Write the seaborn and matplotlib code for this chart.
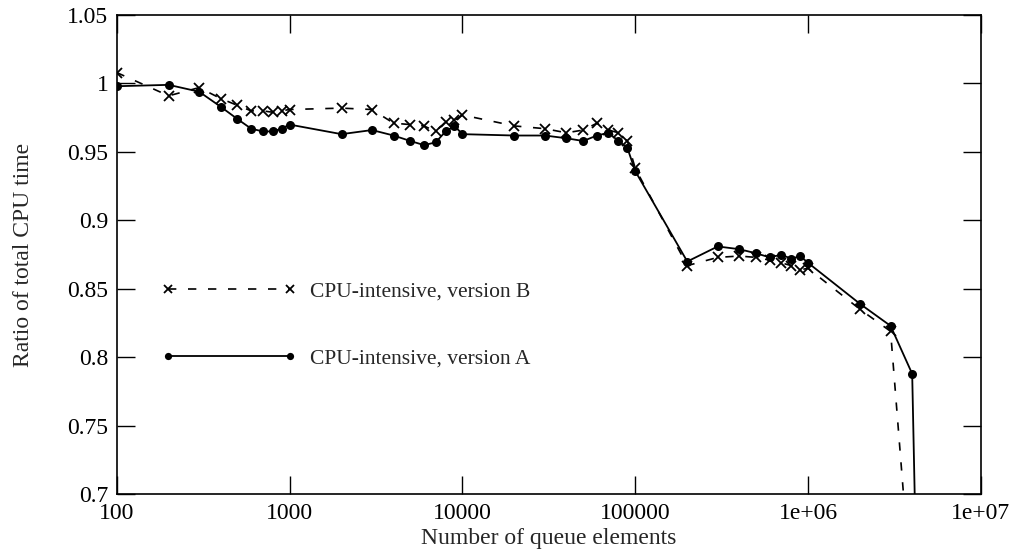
import matplotlib
matplotlib.use("Agg")
import matplotlib.pyplot as plt
import matplotlib.ticker as mticker
import seaborn as sns
import pandas as pd

# ---- data ----
elements = [100, 200, 300, 400, 500, 600, 700, 800, 900, 1000,
            2000, 3000, 4000, 5000, 6000, 7000, 8000, 9000, 10000,
            20000, 30000, 40000, 50000, 60000, 70000, 80000, 90000, 100000,
            200000, 300000, 400000, 500000, 600000, 700000, 800000, 900000, 1000000,
            2000000, 3000000, 4000000]
version_a = [0.998, 0.999, 0.994, 0.983, 0.974, 0.967, 0.965, 0.965, 0.967, 0.970,
             0.963, 0.966, 0.962, 0.958, 0.955, 0.957, 0.965, 0.969, 0.963,
             0.962, 0.962, 0.960, 0.958, 0.962, 0.964, 0.958, 0.953, 0.936,
             0.870, 0.881, 0.879, 0.876, 0.873, 0.875, 0.872, 0.874, 0.869,
             0.839, 0.823, 0.788]
version_a_tail_x = [5000000]
version_a_tail_y = [0.20]
version_b = [1.008, 0.991, 0.997, 0.989, 0.984, 0.980, 0.980, 0.979, 0.980, 0.981,
             0.982, 0.981, 0.971, 0.970, 0.969, 0.965, 0.972, 0.973, 0.977,
             0.969, 0.967, 0.964, 0.966, 0.971, 0.966, 0.964, 0.958, 0.938,
             0.867, 0.873, 0.874, 0.873, 0.871, 0.869, 0.867, 0.864, 0.865,
             0.835, 0.819, 0.620]

label_a = "CPU-intensive, version A"
label_b = "CPU-intensive, version B"
x_ticks = [100, 1000, 10000, 100000, 1000000, 10000000]
x_tick_labels = ["100", "1000", "10000", "100000", "1e+06", "1e+07"]
y_ticks = [0.7, 0.75, 0.8, 0.85, 0.9, 0.95, 1.0, 1.05]
y_tick_labels = ["0.7", "0.75", "0.8", "0.85", "0.9", "0.95", "1", "1.05"]

df_a = pd.DataFrame({"x": elements + version_a_tail_x, "y": version_a + version_a_tail_y})
df_b = pd.DataFrame({"x": elements, "y": version_b})

# ---- style ----
sns.set_style("ticks")
plt.rcParams["font.family"] = ["Liberation Serif", "DejaVu Serif"]
plt.rcParams["font.size"] = 16

fig = plt.figure(figsize=(10.11, 5.52), dpi=100)
ax = fig.add_axes([0.1154, 0.1045, 0.9703 - 0.1154, 0.9728 - 0.1045])

sns.lineplot(data=df_b, x="x", y="y", ax=ax, color="black", lw=1.2,
             linestyle=(0, (5, 7)), marker="x", ms=7.5, mew=1.3,
             mec="black", label=label_b)
sns.lineplot(data=df_a, x="x", y="y", ax=ax, color="black", lw=1.3,
             marker="o", ms=6.5, mew=0, mec="black", label=label_a)

ax.set_xscale("log")
ax.set_xlim(100, 1e7)
ax.set_ylim(0.7, 1.05)
ax.xaxis.set_major_locator(mticker.FixedLocator(x_ticks))
ax.xaxis.set_major_formatter(mticker.FixedFormatter(x_tick_labels))
ax.xaxis.set_minor_locator(mticker.NullLocator())
ax.yaxis.set_major_locator(mticker.FixedLocator(y_ticks))
ax.yaxis.set_major_formatter(mticker.FixedFormatter(y_tick_labels))
ax.yaxis.set_minor_locator(mticker.NullLocator())

ax.tick_params(direction="in", length=13, width=1.0, top=True, right=True,
               labelsize=17, pad=6, colors="black")
for s in ax.spines.values():
    s.set_visible(True)
    s.set_linewidth(1.2)
    s.set_color("black")

ax.set_xlabel("Number of queue elements", fontsize=17, labelpad=3)
ax.set_ylabel("Ratio of total CPU time", fontsize=17, labelpad=24)

handles, labels = ax.get_legend_handles_labels()
order = [labels.index(label_b), labels.index(label_a)]
ax.legend([handles[i] for i in order], [labels[i] for i in order],
          loc="center left", bbox_to_anchor=(0.0516, 0.353),
          frameon=False, numpoints=2, handlelength=6.3, handletextpad=0.6,
          labelspacing=2.2, borderpad=0, borderaxespad=0, markerscale=0.8,
          fontsize=15.5)

fig.savefig("out.png", dpi=100)
